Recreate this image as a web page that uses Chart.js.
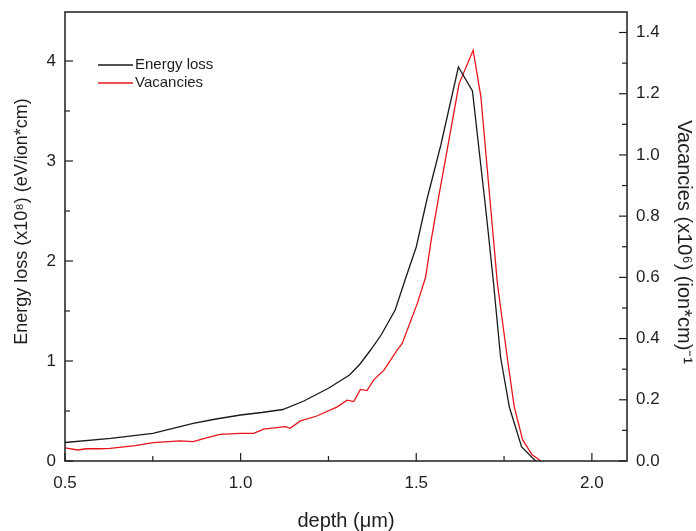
<!DOCTYPE html>
<html>
<head>
<meta charset="utf-8">
<script src="https://cdn.jsdelivr.net/npm/chart.js@4/dist/chart.umd.min.js"></script>
<style>
  body { margin: 0; background: #fff; }
  canvas { display: block; }
</style>
</head>
<body>
<canvas id="chart" width="696" height="531"></canvas>
<script>
// energy loss curve (depth in um, value x10^8 eV/ion*cm)
const depthE = [0.50, 0.63, 0.75, 0.865, 0.93, 1.00, 1.06, 1.12, 1.18, 1.25, 1.31, 1.34, 1.37, 1.40, 1.44, 1.47, 1.50, 1.53, 1.57, 1.62, 1.66, 1.70, 1.72, 1.74, 1.765, 1.80, 1.84]
const energyLoss = [0.185, 0.227, 0.277, 0.377, 0.42, 0.46, 0.485, 0.515, 0.60, 0.727, 0.86, 0.97, 1.11, 1.26, 1.51, 1.83, 2.14, 2.61, 3.16, 3.94, 3.70, 2.45, 1.78, 1.04, 0.54, 0.14, 0.0]

// vacancies curve (x10^6 per ion*cm), right axis
const depthV = [0.50, 0.537, 0.56, 0.60, 0.628, 0.70, 0.751, 0.827, 0.865, 0.90, 0.941, 0.999, 1.037, 1.056, 1.065, 1.127, 1.141, 1.170, 1.217, 1.275, 1.303, 1.322, 1.341, 1.360, 1.379, 1.408, 1.446, 1.460, 1.503, 1.527, 1.541, 1.565, 1.622, 1.662, 1.684, 1.710, 1.731, 1.760, 1.779, 1.803, 1.83, 1.855]
const vacancies = [0.043, 0.036, 0.040, 0.040, 0.041, 0.050, 0.060, 0.066, 0.063, 0.075, 0.087, 0.090, 0.090, 0.099, 0.104, 0.112, 0.107, 0.131, 0.147, 0.177, 0.199, 0.194, 0.234, 0.230, 0.265, 0.297, 0.363, 0.384, 0.515, 0.602, 0.711, 0.870, 1.233, 1.342, 1.19, 0.852, 0.58, 0.33, 0.177, 0.069, 0.02, 0.0]

// tick labels
const xTicks = [0.5, 1.0, 1.5, 2.0]
const xMinor = [0.75, 1.25, 1.75]
const leftTicks = [0, 1, 2, 3, 4]
const leftMinor = [0.5, 1.5, 2.5, 3.5]
const rightTicks = [0, 0.2, 0.4, 0.6, 0.8, 1.0, 1.2, 1.4]
const rightMinor = [0.1, 0.3, 0.5, 0.7, 0.9, 1.1, 1.3]

const ink = "#1e1e1e"
const font = "'Liberation Sans', Arial, sans-serif"

function toPoints(xs, ys) {
  return xs.map((x, i) => ({ x: x, y: ys[i] }))
}

// vertical axes: keep chart area top where the layout padding puts it
function fitSide(width) {
  return s => { s.width = width; s.paddingTop = 0; s.paddingBottom = 0 }
}

// frame + inward ticks like the Origin plot
const frameTicks = {
  id: "frameTicks",
  afterDatasetsDraw(chart) {
    const { ctx, chartArea: { left, right, top, bottom }, scales } = chart
    ctx.save()
    ctx.strokeStyle = ink
    ctx.lineWidth = 1.5
    ctx.strokeRect(left, top, right - left, bottom - top)
    ctx.lineWidth = 1.2
    const tick = (x1, y1, x2, y2) => {
      ctx.beginPath()
      ctx.moveTo(x1, y1)
      ctx.lineTo(x2, y2)
      ctx.stroke()
    }
    xTicks.forEach(v => { let p = scales.x.getPixelForValue(v); tick(p, bottom, p, bottom - 8) })
    xMinor.forEach(v => { let p = scales.x.getPixelForValue(v); tick(p, bottom, p, bottom - 5) })
    leftTicks.forEach(v => { let p = scales.y.getPixelForValue(v); tick(left, p, left + 8, p) })
    leftMinor.forEach(v => { let p = scales.y.getPixelForValue(v); tick(left, p, left + 5, p) })
    rightTicks.forEach(v => { let p = scales.y1.getPixelForValue(v); tick(right, p, right - 8, p) })
    rightMinor.forEach(v => { let p = scales.y1.getPixelForValue(v); tick(right, p, right - 5, p) })
    ctx.restore()
  }
}

// small legend in the top left corner of the plot
const cornerLegend = {
  id: "cornerLegend",
  afterDraw(chart) {
    const { ctx, chartArea: { left, top } } = chart
    ctx.save()
    ctx.font = "15px " + font
    ctx.textBaseline = "middle"
    chart.data.datasets.forEach((ds, i) => {
      let y = top + 53 + i * 18
      ctx.strokeStyle = ds.borderColor
      ctx.lineWidth = 1.3
      ctx.beginPath()
      ctx.moveTo(left + 33, y)
      ctx.lineTo(left + 68, y)
      ctx.stroke()
      ctx.fillStyle = ink
      ctx.fillText(ds.label, left + 70, y)
    })
    ctx.restore()
  }
}

const chart = new Chart(document.getElementById("chart"), {
  type: "line",
  data: {
    datasets: [
      {
        label: "Energy loss",
        data: toPoints(depthE, energyLoss),
        borderColor: "#1a1a1a",
        borderWidth: 1.3,
        pointRadius: 0,
        tension: 0,
        yAxisID: "y"
      },
      {
        label: "Vacancies",
        data: toPoints(depthV, vacancies),
        borderColor: "#e8141c",
        borderWidth: 1.3,
        pointRadius: 0,
        tension: 0,
        yAxisID: "y1"
      }
    ]
  },
  options: {
    responsive: false,
    animation: false,
    layout: { padding: { top: 12, left: 0, right: 0, bottom: 0 } },
    plugins: { legend: { display: false }, tooltip: { enabled: false } },
    scales: {
      x: {
        type: "linear",
        min: 0.5,
        max: 2.1,
        afterBuildTicks: s => { s.ticks = xTicks.map(v => ({ value: v })) },
        afterFit: s => { s.height = 70 },
        grid: { display: false, drawTicks: false },
        border: { display: false },
        ticks: { padding: 12, color: ink, font: { family: font, size: 17 }, callback: v => v.toFixed(1), maxRotation: 0 },
        title: { display: true, text: "depth (μm)", color: ink, font: { family: font, size: 20, lineHeight: 1 }, padding: { top: 0, bottom: 0 } }
      },
      y: {
        position: "left",
        min: 0,
        max: 4.49,
        afterBuildTicks: s => { s.ticks = leftTicks.map(v => ({ value: v })) },
        afterFit: fitSide(65),
        grid: { display: false, drawTicks: false },
        border: { display: false },
        ticks: { padding: 9, color: ink, font: { family: font, size: 17 }, callback: v => String(v) },
        title: { display: true, text: "      Energy loss (x10⁸) (eV/ion*cm)", color: ink, font: { family: font, size: 18 }, padding: { top: 11, bottom: 0 } }
      },
      y1: {
        position: "right",
        min: 0,
        max: 1.467,
        afterBuildTicks: s => { s.ticks = rightTicks.map(v => ({ value: v })) },
        afterFit: fitSide(69),
        grid: { display: false, drawTicks: false },
        border: { display: false },
        ticks: { padding: 9, color: ink, font: { family: font, size: 17 }, callback: v => v.toFixed(1) },
        title: { display: true, text: "  Vacancies (x10⁶) (ion*cm)⁻¹", color: ink, font: { family: font, size: 20 }, padding: { top: 0, bottom: 0 } }
      }
    }
  },
  plugins: [frameTicks, cornerLegend]
})
</script>
</body>
</html>
